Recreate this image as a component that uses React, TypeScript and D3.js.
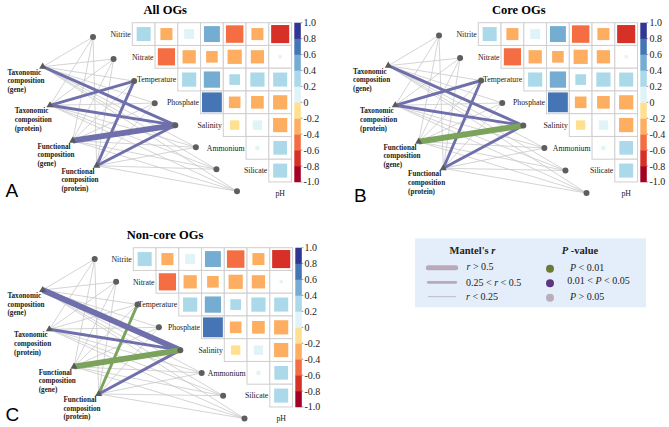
import React from "react";
import * as d3 from "d3";

// ---------- DATA ----------
const envVars = ["Nitrite", "Nitrate", "Temperature", "Phosphate", "Salinity", "Ammonium", "Silicate", "pH"];
// upper triangle of env correlations: row i = envVars[i] vs envVars[i+1..7]
const envCorr = [
  [0.38, -0.28, 0.19, 0.49, -0.59, -0.28, -0.63],
  [-0.57, -0.34, -0.26, -0.39, -0.34, 0.02],
  [0.39, 0.51, 0.22, 0.39, 0.38],
  [0.76, -0.26, -0.31, -0.39],
  [-0.17, 0.17, -0.39],
  [0.03, 0.36],
  [0.38],
];
const specNames = [
  ["Taxonomic", "composition", "(gene)"],
  ["Taxonomic", "composition", "(protein)"],
  ["Functional", "composition", "(gene)"],
  ["Functional", "composition", "(protein)"],
];
const colorTicks = [1.0, 0.8, 0.6, 0.4, 0.2, 0, -0.2, -0.4, -0.6, -0.8, -1.0];
const colorTickLabels = ["1.0", "0.8", "0.6", "0.4", "0.2", "0", "-0.2", "-0.4", "-0.6", "-0.8", "-1.0"];

// Mantel r / p : rows = spec, cols = envVars
const mantelRAll = [
  [0.08, 0.12, 0.15, 0.06, 0.38, 0.05, 0.1, 0.07],
  [0.1, 0.09, 0.31, 0.07, 0.36, 0.04, 0.11, 0.06],
  [0.07, 0.11, 0.16, 0.05, 0.58, 0.06, 0.09, 0.08],
  [0.09, 0.08, 0.33, 0.06, 0.34, 0.05, 0.12, 0.07],
];
const mantelPAll = [
  [0.42, 0.21, 0.12, 0.55, 0.02, 0.61, 0.33, 0.48],
  [0.3, 0.35, 0.03, 0.5, 0.03, 0.7, 0.25, 0.52],
  [0.45, 0.27, 0.1, 0.6, 0.02, 0.58, 0.38, 0.44],
  [0.36, 0.4, 0.02, 0.57, 0.04, 0.66, 0.22, 0.5],
];
const mantelRCore = [
  [0.07, 0.11, 0.14, 0.06, 0.35, 0.05, 0.09, 0.07],
  [0.09, 0.08, 0.32, 0.07, 0.34, 0.05, 0.1, 0.06],
  [0.08, 0.1, 0.15, 0.05, 0.57, 0.06, 0.1, 0.08],
  [0.09, 0.07, 0.31, 0.06, 0.33, 0.05, 0.11, 0.07],
];
const mantelPCore = [
  [0.44, 0.24, 0.13, 0.56, 0.03, 0.63, 0.35, 0.47],
  [0.33, 0.38, 0.03, 0.51, 0.03, 0.68, 0.27, 0.53],
  [0.41, 0.3, 0.11, 0.62, 0.006, 0.59, 0.36, 0.45],
  [0.37, 0.42, 0.03, 0.58, 0.04, 0.64, 0.24, 0.51],
];
const mantelRNonCore = [
  [0.08, 0.12, 0.16, 0.06, 0.53, 0.05, 0.1, 0.07],
  [0.1, 0.09, 0.14, 0.07, 0.34, 0.04, 0.11, 0.06],
  [0.07, 0.11, 0.15, 0.05, 0.58, 0.06, 0.09, 0.08],
  [0.09, 0.08, 0.3, 0.06, 0.33, 0.05, 0.12, 0.07],
];
const mantelPNonCore = [
  [0.4, 0.22, 0.11, 0.54, 0.02, 0.6, 0.31, 0.49],
  [0.31, 0.36, 0.15, 0.52, 0.03, 0.71, 0.26, 0.5],
  [0.46, 0.28, 0.12, 0.61, 0.004, 0.57, 0.39, 0.43],
  [0.35, 0.41, 0.008, 0.55, 0.04, 0.65, 0.21, 0.52],
];

// ---------- STYLE / LAYOUT ----------
const SERIF = "'Liberation Serif', 'Times New Roman', serif";
const SANS = "'Liberation Sans', Arial, sans-serif";
const rdylbu = ["#a50026", "#d73027", "#f46d43", "#fdae61", "#fee090", "#e0f3f8", "#abd9e9", "#74add1", "#4575b4", "#313695"];
const colorScale = d3.scaleThreshold<number, string>().domain([-0.8, -0.6, -0.4, -0.2, 0, 0.2, 0.4, 0.6, 0.8]).range(rdylbu);
const GRID_LEFT = 132.3;
const GRID_TOP = 22.7;
const CELL = 22.75;
const sizeScale = d3.scaleSqrt().domain([0, 1]).range([0, CELL]);
const widthScale = d3.scaleThreshold<number, number>().domain([0.25, 0.5]).range([0.8, 2.9, 5.8]);
const edgeColor = d3.scaleThreshold<number, string>().domain([0.01, 0.05]).range(["#7ba35c", "#6f6fab", "#c9c9c9"]);
const cbY = d3.scaleLinear().domain([1, -1]).range([GRID_TOP, GRID_TOP + 7 * CELL]);

type Layout = { nx: [number, number]; ny: [number, number]; tri: number[][] };
const layoutA: Layout = {
  nx: [93, 237],
  ny: [37, 191.3],
  tri: [
    [42.7, 66.7],
    [50, 105.3],
    [72.7, 140.7],
    [96.7, 165.7],
  ],
};
const layoutB: Layout = {
  nx: [93, 240.5],
  ny: [35.5, 193],
  tri: [
    [42.3, 65.7],
    [49.3, 105.3],
    [72.7, 141.7],
    [97.3, 168.3],
  ],
};
const layoutC: Layout = {
  nx: [93.7, 243.5],
  ny: [34, 193.5],
  tri: [
    [41.7, 65],
    [48.3, 104.3],
    [73, 141.7],
    [97.7, 169],
  ],
};

type PanelProps = {
  ox: number;
  oy: number;
  title: string;
  titleX: number;
  titleY: number;
  letter: string;
  letterX: number;
  letterY: number;
  mR: number[][];
  mP: number[][];
  layout: Layout;
};

function Panel({ ox, oy, title, titleX, titleY, letter, letterX, letterY, mR, mP, layout }: PanelProps) {
  const nodeX = d3.scaleLinear().domain([0, 7]).range(layout.nx);
  const nodeY = d3.scaleLinear().domain([0, 7]).range(layout.ny);
  const triPos = layout.tri;
  const edges: { s: number; e: number; r: number; p: number }[] = [];
  mR.forEach((row, s) => row.forEach((r, e) => edges.push({ s, e, r, p: mP[s][e] })));
  const grey = edges.filter((d) => d.p > 0.05);
  const sig = edges.filter((d) => d.p <= 0.05).sort((a, b) => a.r - b.r);
  const tri = d3.symbol(d3.symbolTriangle, 22)() as string;
  const cbBins = d3.range(10).map((k) => -1 + k * 0.2);
  return (
    <g>
      <text x={titleX} y={titleY} textAnchor="middle" fontFamily={SERIF} fontWeight="bold" fontSize={12.5}>
        {title}
      </text>
      <text x={letterX} y={letterY} fontFamily={SANS} fontSize={19}>
        {letter}
      </text>
      <g transform={`translate(${ox},${oy})`}>
        {/* heatmap */}
        {envCorr.map((row, i) =>
          row.map((v, k) => {
            const c = i + k;
            const x = GRID_LEFT + c * CELL;
            const y = GRID_TOP + i * CELL;
            const s = sizeScale(Math.abs(v));
            return (
              <g key={`${i}-${k}`}>
                <rect x={x} y={y} width={CELL} height={CELL} fill="white" stroke="#cfcfcf" strokeWidth={1} />
                <rect x={x + (CELL - s) / 2} y={y + (CELL - s) / 2} width={s} height={s} fill={colorScale(v)} />
              </g>
            );
          })
        )}
        {envVars.slice(0, 7).map((name, i) => (
          <text
            key={name}
            x={GRID_LEFT + i * CELL - 1.5}
            y={GRID_TOP + (i + 0.5) * CELL + 2.7}
            textAnchor="end"
            fontFamily={SERIF}
            fontSize={7.8}
            fill="#222"
          >
            {name}
          </text>
        ))}
        <text x={GRID_LEFT + 6.5 * CELL} y={GRID_TOP + 7.5 * CELL + 3} textAnchor="middle" fontFamily={SERIF} fontSize={7.8} fill="#222">
          {envVars[7]}
        </text>
        {/* colorbar */}
        {cbBins.map((b) => (
          <rect key={b} x={294.3} y={cbY(b + 0.2)} width={6.5} height={cbY(b) - cbY(b + 0.2) + 0.3} fill={colorScale(b + 0.1)} />
        ))}
        {colorTicks.map((t, k) => (
          <g key={k}>
            <line x1={300.8} x2={302.3} y1={cbY(t)} y2={cbY(t)} stroke="#555" strokeWidth={0.6} />
            <text x={303.5} y={cbY(t) + 3.5} fontFamily={SERIF} fontSize={10} fill="#222">
              {colorTickLabels[k]}
            </text>
          </g>
        ))}
        {/* edges */}
        {grey.map((d, k) => (
          <line
            key={`g${k}`}
            x1={triPos[d.s][0]}
            y1={triPos[d.s][1]}
            x2={nodeX(d.e)}
            y2={nodeY(d.e)}
            stroke={edgeColor(d.p)}
            strokeWidth={widthScale(d.r)}
          />
        ))}
        {sig.map((d, k) => (
          <line
            key={`s${k}`}
            x1={triPos[d.s][0]}
            y1={triPos[d.s][1]}
            x2={nodeX(d.e)}
            y2={nodeY(d.e)}
            stroke={edgeColor(d.p)}
            strokeWidth={widthScale(d.r)}
          />
        ))}
        {/* env nodes */}
        {envVars.map((n, i) => (
          <circle key={n} cx={nodeX(i)} cy={nodeY(i)} r={3} fill="#5e5e5e" />
        ))}
        {/* spec nodes */}
        {specNames.map((lines, s) => (
          <g key={s}>
            <path d={tri} transform={`translate(${triPos[s][0]},${triPos[s][1]})`} fill="#5a5a5a" />
            {lines.map((ln, j) => (
              <text
                key={j}
                x={triPos[s][0] - 35.3}
                y={triPos[s][1] + 8 + j * 8.7}
                fontFamily={SERIF}
                fontWeight="bold"
                fontSize={7.2}
                fill="#222"
              >
                {ln}
              </text>
            ))}
          </g>
        ))}
      </g>
    </g>
  );
}

function Legend() {
  const lx1 = 428.3;
  const lx2 = 455.7;
  const rows = [267.7, 282.3, 296.7];
  const lineW = [5, 2.8, 0.8];
  const pColors = ["#6b7b32", "#5c3781", "#b9adb9"];
  return (
    <g fontFamily={SERIF} fill="#222">
      <rect x={415} y={238.3} width={231} height={69} fill="#e4eefa" />
      <text x={472.5} y={253.5} textAnchor="middle" fontWeight="bold" fontSize={10.5}>
        Mantel's <tspan fontStyle="italic">r</tspan>
      </text>
      <text x={580} y={253.5} textAnchor="middle" fontWeight="bold" fontSize={10.5}>
        <tspan fontStyle="italic">P</tspan> -value
      </text>
      {rows.map((y, k) => (
        <line key={k} x1={lx1} x2={lx2} y1={y} y2={y} stroke="#b9a9b9" strokeWidth={lineW[k]} strokeLinecap="round" />
      ))}
      <text x={466.5} y={rows[0] + 2} fontSize={10}>
        <tspan fontStyle="italic">r</tspan> {"> 0.5"}
      </text>
      <text x={466} y={rows[1] + 3.5} fontSize={10}>
        {"0.25 < "}
        <tspan fontStyle="italic">r</tspan>
        {" < 0.5"}
      </text>
      <text x={466} y={rows[2] + 3.5} fontSize={10}>
        <tspan fontStyle="italic">r</tspan>
        {" < 0.25"}
      </text>
      {rows.map((y, k) => (
        <circle key={k} cx={550} cy={y + 1} r={4} fill={pColors[k]} />
      ))}
      <text x={570} y={rows[0] + 3} fontSize={10}>
        <tspan fontStyle="italic">P</tspan>
        {"  < 0.01"}
      </text>
      <text x={567.3} y={rows[1] + 2} fontSize={10}>
        {"0.01 <  "}
        <tspan fontStyle="italic">P</tspan>
        {" < 0.05"}
      </text>
      <text x={570} y={rows[2] + 3.5} fontSize={10}>
        <tspan fontStyle="italic">P</tspan>
        {"  > 0.05"}
      </text>
    </g>
  );
}

export default function App() {
  return (
    <svg width={669} height={427} style={{ position: "absolute", left: 0, top: 0, background: "white" }}>
      <Panel ox={0} oy={0} title="All OGs" titleX={165.3} titleY={13.8} letter="A" letterX={5.5} letterY={196.7} mR={mantelRAll} mP={mantelPAll} layout={layoutA} />
      <Panel ox={346} oy={0} title="Core OGs" titleX={518.8} titleY={13.8} letter="B" letterX={354} letterY={202.3} mR={mantelRCore} mP={mantelPCore} layout={layoutB} />
      <Panel
        ox={1}
        oy={225}
        title="Non-core OGs"
        titleX={165}
        titleY={239}
        letter="C"
        letterX={5.5}
        letterY={421}
        mR={mantelRNonCore}
        mP={mantelPNonCore}
        layout={layoutC}
      />
      <Legend />
    </svg>
  );
}
